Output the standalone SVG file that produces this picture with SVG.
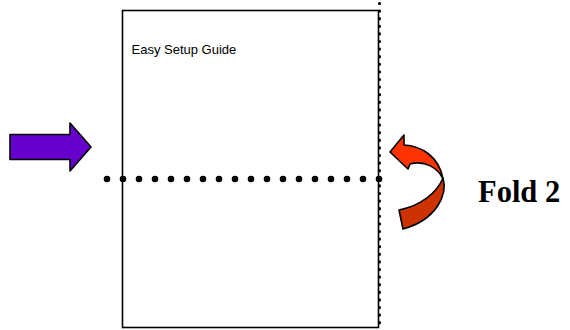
<svg xmlns="http://www.w3.org/2000/svg" width="570" height="330" viewBox="0 0 570 330">
<style>
.sheet{fill:#fff;stroke:#000;stroke-width:1.6}
.dotsV{fill:none;stroke:#000;stroke-width:3.2;stroke-linecap:round;stroke-dasharray:0 7.6}
.dotsH{fill:none;stroke:#000;stroke-width:6.6;stroke-linecap:round;stroke-dasharray:0 16}
.ol{stroke:#000;stroke-width:1.6;stroke-linejoin:round}
.label{font-family:"Liberation Sans",Arial,sans-serif;font-size:13px;fill:#000}
.fold{font-family:"Liberation Serif","Times New Roman",serif;font-weight:bold;font-size:30.5px;fill:#000}
</style>
<rect width="570" height="330" fill="#fff"/>
<g id="sheet">
<rect class="sheet" x="122.5" y="10.5" width="256" height="317"/>
<text class="label" x="131.5" y="54">Easy Setup Guide</text>
</g>
<g id="folds">
<line class="dotsV" x1="379.5" y1="3.5" x2="379.5" y2="325"/>
<line class="dotsH" x1="107" y1="179" x2="395" y2="179"/>
</g>
<g id="push-arrow">
<path class="ol" fill="#6600CC" d="M10,134.5 L70,134.5 L70,123 L91,147 L70,171 L70,159.5 L10,159.5 Z"/>
</g>
<g id="fold-arrow">
<path class="ol" fill="#CC3300" d="M443,178 C448,195 436,220 403,229 L399,210 C420,206 437,193 443,178 Z"/>
<path class="ol" fill="#FF3300" d="M390,152 L404,135 L404,145 C421,146 439,156 443,179 C438,168 425,160 410,164 L408,169 Z"/>
</g>
<g id="fold-label">
<text class="fold" x="478" y="202">Fold 2</text>
</g>
</svg>
